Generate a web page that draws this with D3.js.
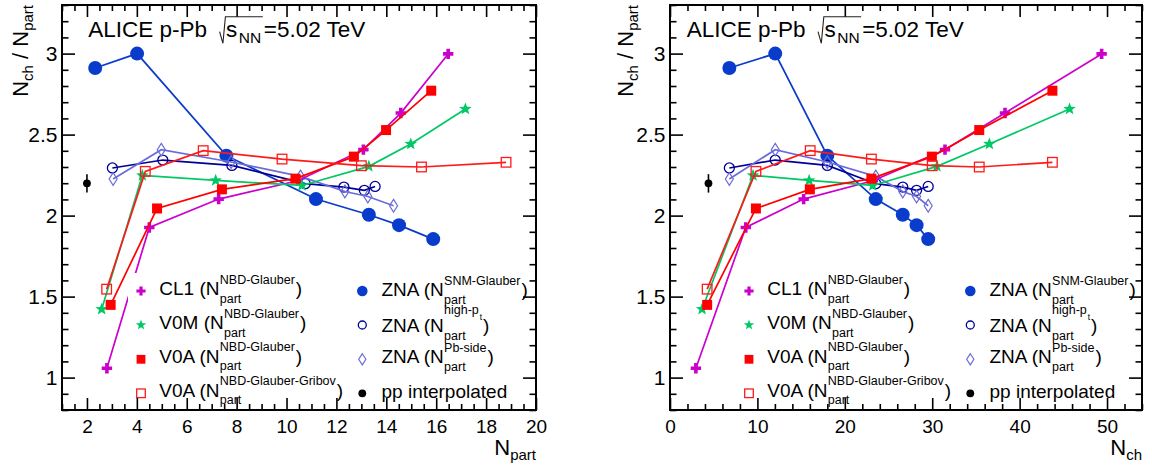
<!DOCTYPE html>
<html><head><meta charset="utf-8">
<script src="https://cdn.jsdelivr.net/npm/d3@7"></script>
<style>
body{margin:0;background:#fff}
svg{display:block}
text{font-family:"Liberation Sans",Arial,Helvetica,sans-serif;fill:#000}
</style>
</head><body>
<svg id="c" width="1152" height="468"></svg>
<script>
// ---------------- data ----------------
const npartCL1 = [2.80, 4.50, 7.28, 10.45, 13.08, 14.58, 16.48];
const nchCL1   = [2.96, 8.67, 15.29, 23.2, 31.46, 38.33, 49.38];
const ratioCL1 = [1.058, 1.927, 2.102, 2.215, 2.407, 2.633, 2.998];

const npartV0M = [2.59, 4.22, 7.16, 10.62, 13.30, 14.98, 17.17];
const nchV0M   = [3.67, 9.50, 15.92, 23.2, 30.54, 36.54, 45.71];
const ratioV0M = [1.422, 2.248, 2.217, 2.186, 2.304, 2.442, 2.658];

const npartV0A = [2.95, 4.81, 7.41, 10.36, 12.70, 13.99, 15.80];
const nchV0A   = [4.25, 9.83, 16.0, 23.04, 29.96, 35.38, 43.75];
const ratioV0A = [1.449, 2.044, 2.162, 2.228, 2.364, 2.528, 2.771];

const npartV0AGribov = [2.79, 4.34, 6.66, 9.82, 13.0, 15.41, 18.80];
const nchV0AGribov   = [4.25, 9.83, 16.04, 23.04, 30.0, 35.38, 43.75];
const ratioV0AGribov = [1.546, 2.273, 2.401, 2.349, 2.308, 2.300, 2.329];

const nchZNA = [6.79, 12.04, 18.0, 23.54, 26.63, 28.21, 29.54];

const npartZNASNM = [2.33, 4.01, 7.59, 11.18, 13.30, 14.51, 15.88];
const ratioZNASNM = [2.911, 3.0, 2.370, 2.102, 2.005, 1.941, 1.855];

const npartZNAHighPt = [3.02, 5.04, 7.81, 10.75, 12.30, 13.12, 13.55];
const ratioZNAHighPt = [2.294, 2.343, 2.310, 2.197, 2.176, 2.156, 2.180];

const npartZNAPbSide = [3.05, 4.98, 7.78, 10.56, 12.34, 13.26, 14.29];
const ratioZNAPbSide = [2.226, 2.407, 2.331, 2.242, 2.149, 2.118, 2.061];

const npartPP = [2.0];
const nchPP   = [4.4];
const ratioPP = [2.199];
const errPP   = [0.057];

const legendMain = ["CL1 (N", "V0M (N", "V0A (N", "V0A (N", "ZNA (N", "ZNA (N", "ZNA (N", "pp interpolated"];
const legendSup  = ["NBD-Glauber", "NBD-Glauber", "NBD-Glauber", "NBD-Glauber-Gribov", "SNM-Glauber", "high-p", "Pb-side", ""];
const legendSupSub = ["", "", "", "", "", "t", "", ""];
const legendSub  = ["part", "part", "part", "part", "part", "part", "part", ""];

const yTicksMajor = [1, 1.5, 2, 2.5, 3];
const yTickLabels = ["1", "1.5", "2", "2.5", "3"];
const xTicksLeft  = [2, 4, 6, 8, 10, 12, 14, 16, 18, 20];
const xTicksRight = [0, 10, 20, 30, 40, 50];
const titleText = ["ALICE p-Pb", "s", "NN", "=5.02 TeV"];

// ---------------- styles ----------------
const C = {
  cl1: "#cc00cc", v0m: "#00c864", v0a: "#ff0000", gribov: "#ff1a1a",
  snm: "#0a3ccc", highpt: "#000099", pbside: "#6b6bd9", pp: "#000000"
};

const series = [
  {key:"snm",    npart:npartZNASNM,    nch:nchZNA,        ratio:ratioZNASNM,    marker:"fcircle",  color:C.snm},
  {key:"highpt", npart:npartZNAHighPt, nch:nchZNA,        ratio:ratioZNAHighPt, marker:"ocircle",  color:C.highpt},
  {key:"pbside", npart:npartZNAPbSide, nch:nchZNA,        ratio:ratioZNAPbSide, marker:"odiamond", color:C.pbside},
  {key:"cl1",    npart:npartCL1,       nch:nchCL1,        ratio:ratioCL1,       marker:"cross",    color:C.cl1},
  {key:"v0m",    npart:npartV0M,       nch:nchV0M,        ratio:ratioV0M,       marker:"star",     color:C.v0m},
  {key:"v0a",    npart:npartV0A,       nch:nchV0A,        ratio:ratioV0A,       marker:"fsquare",  color:C.v0a},
  {key:"gribov", npart:npartV0AGribov, nch:nchV0AGribov,  ratio:ratioV0AGribov, marker:"osquare",  color:C.gribov}
];
const legendMarkers = ["cross","star","fsquare","osquare","fcircle","ocircle","odiamond","dot"];
const legendColors  = [C.cl1, C.v0m, C.v0a, C.gribov, C.snm, C.highpt, C.pbside, C.pp];

const svg = d3.select("#c");
const FONT = '"Liberation Sans",Arial,Helvetica,sans-serif';

function starPath(R){
  const r = R*0.42, pts=[];
  for(let i=0;i<10;i++){
    const a = -Math.PI/2 + i*Math.PI/5, rr = i%2===0 ? R : r;
    pts.push([rr*Math.cos(a), rr*Math.sin(a)]);
  }
  return "M"+pts.map(p=>p[0].toFixed(2)+","+p[1].toFixed(2)).join("L")+"Z";
}
function crossPath(L, t){
  return `M${-t},${-L}L${t},${-L}L${t},${-t}L${L},${-t}L${L},${t}L${t},${t}L${t},${L}L${-t},${L}L${-t},${t}L${-L},${t}L${-L},${-t}L${-t},${-t}Z`;
}
function drawMarker(g, type, x, y, color, legend){
  const m = g.append("g").attr("transform", `translate(${x},${y})`);
  switch(type){
    case "fcircle": m.append("circle").attr("r", legend?5.3:7.0).attr("fill", color); break;
    case "ocircle": m.append("circle").attr("r", legend?4.0:5.0).attr("fill","none").attr("stroke",color).attr("stroke-width",1.3); break;
    case "odiamond": { const w = legend?3.6:4.0, h = legend?5.6:6.3;
      m.append("path").attr("d",`M0,${-h}L${w},0L0,${h}L${-w},0Z`).attr("fill","none").attr("stroke",color).attr("stroke-width",1.2); break; }
    case "cross": { const L = legend?4.6:5.2, t = legend?1.6:1.8;
      m.append("path").attr("d", crossPath(L, t)).attr("fill", color); break; }
    case "star": m.append("path").attr("d", starPath(legend?5.4:6.6)).attr("fill", color); break;
    case "fsquare": { const s = legend?8.8:10;
      m.append("rect").attr("x",-s/2).attr("y",-s/2).attr("width",s).attr("height",s).attr("fill",color); break; }
    case "osquare": { const s = legend?8.6:9.6;
      m.append("rect").attr("x",-s/2).attr("y",-s/2).attr("width",s).attr("height",s).attr("fill","none").attr("stroke",color).attr("stroke-width",1.3); break; }
    case "dot": m.append("circle").attr("r", 3.9).attr("fill", color); break;
  }
}

const yTop = 5, yBot = 410;
const y = d3.scaleLinear().domain([0.8, 3.3]).range([yBot, yTop]);
const yMinor = d3.range(8, 34).map(v => v/10).filter(v => !yTicksMajor.some(t => Math.abs(t-v)<1e-6));

const panels = [
  {x0:62, x1:536, domain:[1,20], key:"npart", majors:xTicksLeft,
   minors:d3.range(2, 40).map(v=>v/2).filter(v => v%2!==0), xsub:"part", titleX:88.3, ylabX:28,
   ppx:npartPP},
  {x0:670, x1:1142, domain:[0,54], key:"nch", majors:xTicksRight,
   minors:d3.range(0, 55, 2).filter(v => v%10!==0), xsub:"ch", titleX:686.7, ylabX:633,
   ppx:nchPP}
];

panels.forEach(P => {
  const x = d3.scaleLinear().domain(P.domain).range([P.x0, P.x1]);
  const g = svg.append("g");

  // data series
  series.forEach(s => {
    const pts = s[P.key].map((v,i) => [x(v), y(s.ratio[i])]);
    g.append("path").attr("d", d3.line()(pts)).attr("fill","none")
      .attr("stroke", s.color).attr("stroke-width", 1.7);
    pts.forEach(p => drawMarker(g, s.marker, p[0], p[1], s.color, false));
  });
  // pp interpolated
  P.ppx.forEach((v,i) => {
    g.append("line").attr("x1", x(v)).attr("x2", x(v))
      .attr("y1", y(ratioPP[i]-errPP[i])).attr("y2", y(ratioPP[i]+errPP[i]))
      .attr("stroke","#000").attr("stroke-width",1.6);
    drawMarker(g, "dot", x(v), y(ratioPP[i]), C.pp, false);
  });

  // legend box
  g.append("rect").attr("x", P.x0+66).attr("y", 273).attr("width", 392).attr("height", 125).attr("fill","#fff");

  const rowY = [291, 325, 359.3, 393.3];
  const baseOff = [[4,4.3,3.5,3.5],[5,7.4,3.8,5]];
  legendMain.forEach((main, i) => {
    const col = i < 4 ? 0 : 1, row = i % 4;
    const mx = P.x0 + (col===0 ? 79 : 300.3);
    const tx = P.x0 + (col===0 ? 97.3 : 319.5);
    drawMarker(g, legendMarkers[i], mx, rowY[row], legendColors[i], true);
    const yb = rowY[row] + baseOff[col][row];
    const t = g.append("text").attr("x", tx).attr("y", yb).attr("font-size", 19).text(main);
    if (!legendSup[i]) return;
    const w = t.node().getComputedTextLength();
    const sx = tx + w + 0.3;
    const supY = legendSupSub[i] ? yb - 18 : yb - 11.5;
    const ts = g.append("text").attr("x", sx).attr("y", supY).attr("font-size", 12.5).text(legendSup[i]);
    let ws = ts.node().getComputedTextLength();
    if (legendSupSub[i]) {
      const tt = g.append("text").attr("x", sx + ws + 0.8).attr("y", supY + 5.5).attr("font-size", 8.5).text(legendSupSub[i]);
      ws += 0.8 + tt.node().getComputedTextLength();
    }
    const tb = g.append("text").attr("x", sx).attr("y", yb + 7.6).attr("font-size", 12.5).text(legendSub[i]);
    const wb = tb.node().getComputedTextLength();
    g.append("text").attr("x", sx + Math.max(ws, wb) + 1).attr("y", yb).attr("font-size", 19).text(")");
  });

  // axes (ticks inward, on all four sides)
  const axG = svg.append("g");
  const styleAxis = sel => { sel.select(".domain").remove(); sel.selectAll(".tick line").attr("stroke","#000").attr("stroke-width",1.6); };
  const xB = axG.append("g").attr("transform", `translate(0,${yBot})`)
    .call(d3.axisBottom(x).tickValues(P.majors).tickSize(-12).tickPadding(9.5).tickFormat(d3.format("d")));
  xB.call(styleAxis);
  xB.selectAll("text").attr("font-size", 19).attr("font-family", FONT).attr("fill","#000");
  axG.append("g").attr("transform", `translate(0,${yBot})`)
    .call(d3.axisBottom(x).tickValues(P.minors).tickSize(-6).tickFormat("")).call(styleAxis);
  axG.append("g").attr("transform", `translate(0,${yTop})`)
    .call(d3.axisTop(x).tickValues(P.majors).tickSize(-12).tickFormat("")).call(styleAxis);
  axG.append("g").attr("transform", `translate(0,${yTop})`)
    .call(d3.axisTop(x).tickValues(P.minors).tickSize(-6).tickFormat("")).call(styleAxis);

  const yL = axG.append("g").attr("transform", `translate(${P.x0},0)`)
    .call(d3.axisLeft(y).tickValues(yTicksMajor).tickSize(-13).tickPadding(4.5).tickFormat((d,i) => yTickLabels[i]));
  yL.call(styleAxis);
  yL.selectAll("text").attr("font-size", 21).attr("font-family", FONT).attr("fill","#000");
  axG.append("g").attr("transform", `translate(${P.x0},0)`)
    .call(d3.axisLeft(y).tickValues(yMinor).tickSize(-6.5).tickFormat("")).call(styleAxis);
  axG.append("g").attr("transform", `translate(${P.x1},0)`)
    .call(d3.axisRight(y).tickValues(yTicksMajor).tickSize(-13).tickFormat("")).call(styleAxis);
  axG.append("g").attr("transform", `translate(${P.x1},0)`)
    .call(d3.axisRight(y).tickValues(yMinor).tickSize(-6.5).tickFormat("")).call(styleAxis);

  axG.append("rect").attr("x", P.x0).attr("y", yTop).attr("width", P.x1-P.x0).attr("height", yBot-yTop)
    .attr("fill","none").attr("stroke","#000").attr("stroke-width",2);

  // axis titles
  const xt = svg.append("text").attr("x", P.x1).attr("y", 455).attr("text-anchor","end").attr("font-size", 22);
  xt.append("tspan").text("N");
  xt.append("tspan").attr("font-size", 15).attr("dy", 5).text(P.xsub);

  const yt = svg.append("text").attr("transform", `translate(${P.ylabX},${yTop}) rotate(-90)`)
    .attr("text-anchor","end").attr("font-size", 22);
  yt.append("tspan").text("N");
  yt.append("tspan").attr("font-size", 15).attr("dy", 5).text("ch");
  yt.append("tspan").attr("dy", -5).text(" / N");
  yt.append("tspan").attr("font-size", 15).attr("dy", 5).text("part");

  // title
  const tb = 36.7;
  const t1 = svg.append("text").attr("x", P.titleX).attr("y", tb).attr("font-size", 22.5).text(titleText[0]);
  const rx = P.titleX + t1.node().getComputedTextLength() + 12.5;
  const ts = svg.append("text").attr("x", rx + 6.5).attr("y", tb).attr("font-size", 22.5).text(titleText[1]);
  const nnx = rx + 6.5 + ts.node().getComputedTextLength() + 1.5;
  const tn = svg.append("text").attr("x", nnx).attr("y", tb + 6.6).attr("font-size", 15.5).text(titleText[2]);
  const ex = nnx + tn.node().getComputedTextLength() + 1.5;
  svg.append("path").attr("d", `M${rx},${tb-5}L${rx+3.3},${tb+6.6}L${rx+5.8},${tb-20}L${ex},${tb-20}`)
    .attr("fill","none").attr("stroke","#222").attr("stroke-width",1.1);
  svg.append("text").attr("x", ex + 1).attr("y", tb).attr("font-size", 22.5).text(titleText[3]);
});
</script>
</body></html>
